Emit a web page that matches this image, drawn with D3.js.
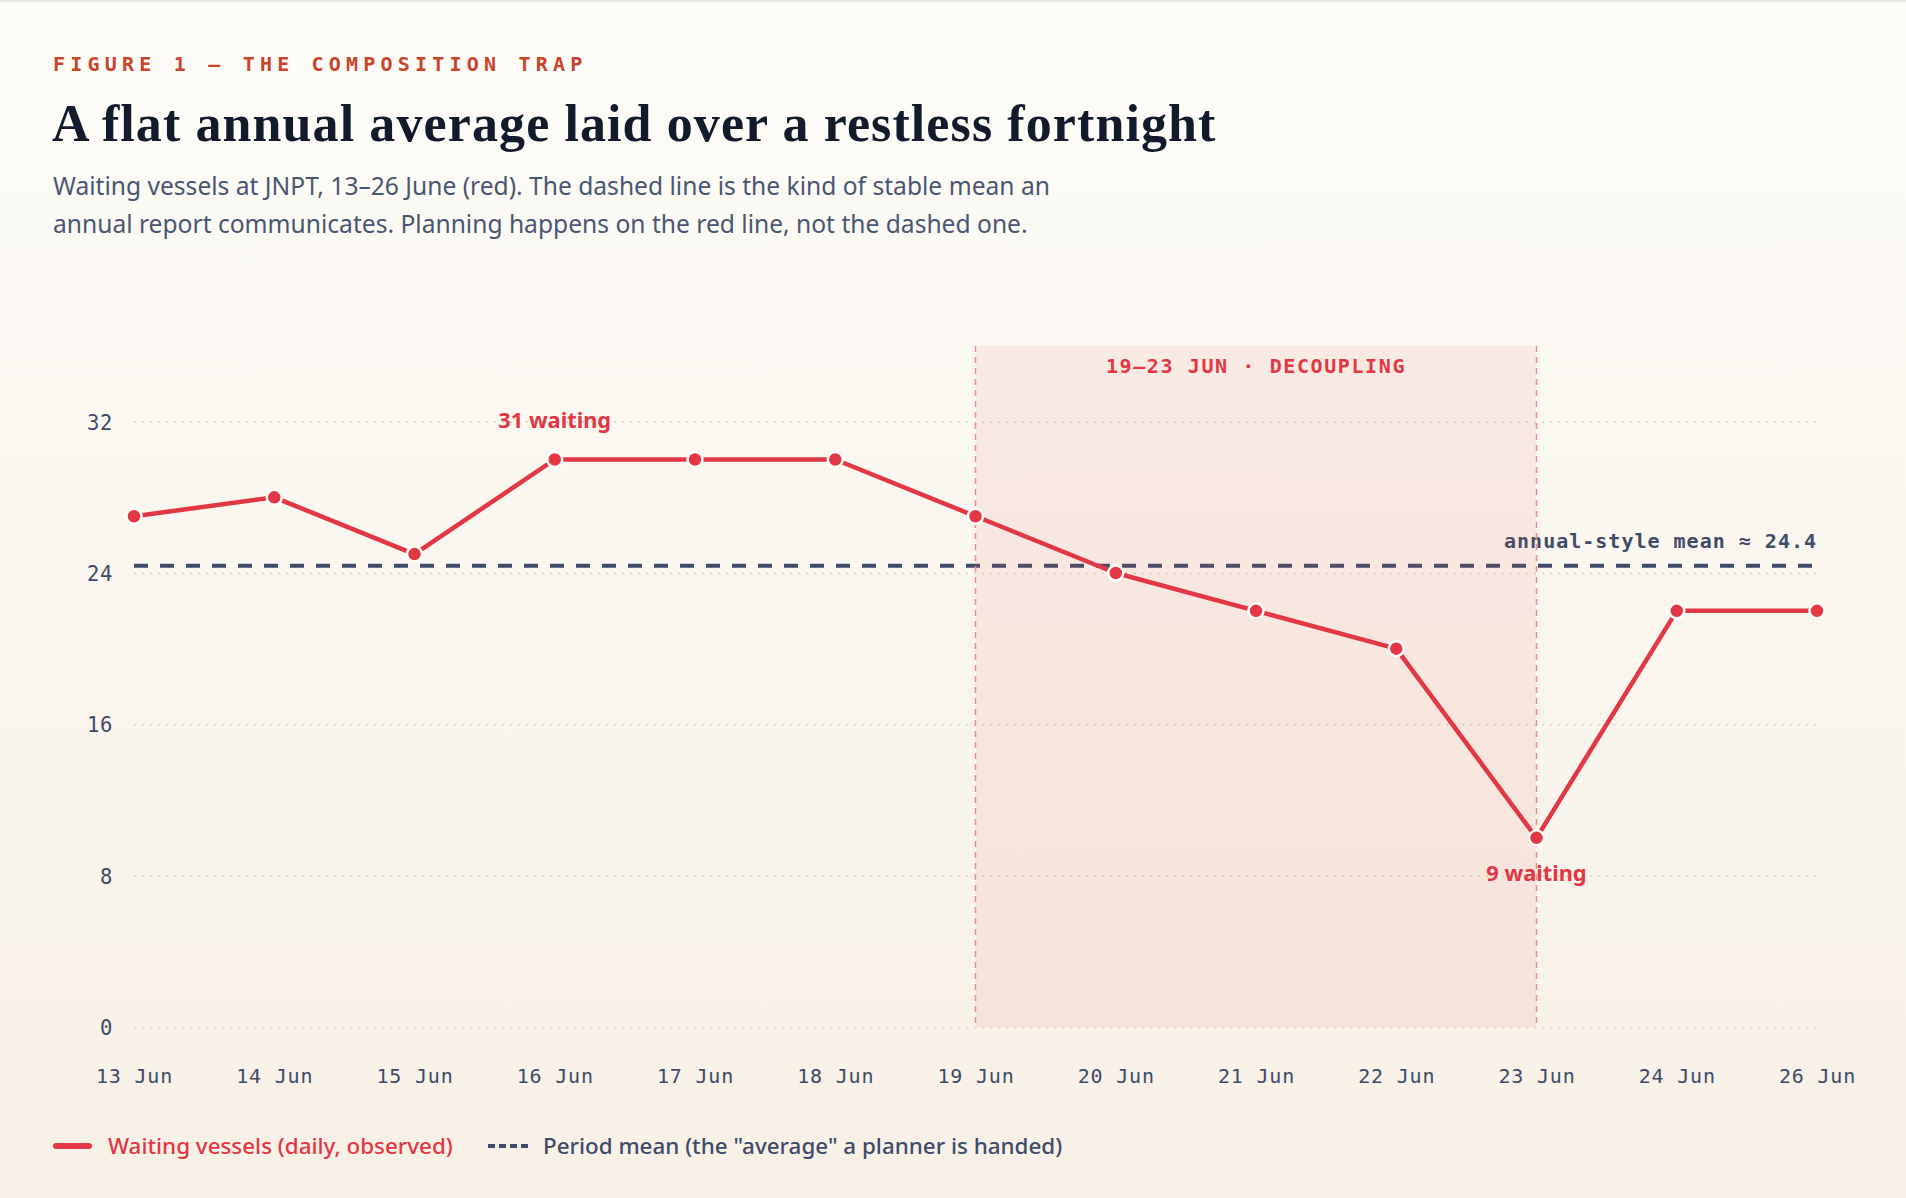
<!DOCTYPE html>
<html>
<head>
<meta charset="utf-8">
<script src="https://cdn.jsdelivr.net/npm/d3@7"></script>
<style>
  html, body { margin: 0; padding: 0; }
  body { width: 1906px; height: 1198px; overflow: hidden; }
  svg { display: block; }
</style>
</head>
<body>
<div id="chart"></div>
<script>
// data
const days = ["13 Jun", "14 Jun", "15 Jun", "16 Jun", "17 Jun", "18 Jun", "19 Jun",
              "20 Jun", "21 Jun", "22 Jun", "23 Jun", "24 Jun", "26 Jun"];
const waiting = [27, 28, 25, 30, 30, 30, 27, 24, 22, 20, 10, 22, 22];
const yTicks = [0, 8, 16, 24, 32];
const bandDays = ["19 Jun", "23 Jun"];
const bandLabel = "19\u201323 JUN \u00b7 DECOUPLING";
const callouts = [
    { day: "16 Jun", text: "31 waiting", side: "above" },
    { day: "23 Jun", text: "9 waiting", side: "below" }
];
const eyebrow = "FIGURE 1 \u2014 THE COMPOSITION TRAP";
const title = "A flat annual average laid over a restless fortnight";
const subtitle = [
    "Waiting vessels at JNPT, 13\u201326 June (red). The dashed line is the kind of stable mean an",
    "annual report communicates. Planning happens on the red line, not the dashed one."
];
const legendItems = ["Waiting vessels (daily, observed)", "Period mean (the \"average\" a planner is handed)"];

const W = 1906, H = 1198;
const red = '#e23744',
    slate = '#3f4b69',
    ink = '#121a2b',
    rust = '#c8452b';
const mono = '"DejaVu Sans Mono", "Liberation Mono", monospace',
    sans = '"Noto Sans", "Open Sans", sans-serif',
    serif = '"Liberation Serif", "DejaVu Serif", serif';

const meanValue = d3.mean(waiting);

const x = d3.scalePoint().domain(days).range([134, 1817]);
const y = d3.scaleLinear().domain([0, 36]).range([1027, 346]);

const svg = d3.select('#chart').append('svg')
    .attr('width', W)
    .attr('height', H);

const defs = svg.append('defs');
const bg = defs.append('linearGradient').attr('id', 'bg')
    .attr('x1', 0).attr('y1', 0).attr('x2', 0).attr('y2', 1);
bg.append('stop').attr('offset', 0).attr('stop-color', '#fdfcf8');
bg.append('stop').attr('offset', 1).attr('stop-color', '#f7f0e6');

svg.append('rect').attr('width', W).attr('height', H).attr('fill', 'url(#bg)');
svg.append('rect').attr('width', W).attr('height', 2).attr('fill', '#e7e6e3');

// header
svg.append('text')
    .attr('x', 53).attr('y', 71)
    .attr('font-family', mono).attr('font-weight', 700)
    .attr('font-size', 20).attr('letter-spacing', 5.2)
    .attr('fill', rust)
    .text(eyebrow);

svg.append('text')
    .attr('x', 52).attr('y', 141)
    .attr('font-family', serif).attr('font-weight', 700)
    .attr('font-size', 52).attr('letter-spacing', 1.1)
    .attr('fill', ink)
    .text(title);

svg.append('g').selectAll('text')
    .data(subtitle).enter()
    .append('text')
    .attr('x', 53)
    .attr('y', (d, i) => 195 + i * 38)
    .attr('font-family', sans).attr('font-size', 24.6)
    .attr('fill', '#4a5671')
    .text(d => d);

// y grid + labels
const yAxis = svg.append('g')
    .attr('transform', 'translate(' + x.range()[0] + ',0)')
    .call(d3.axisLeft(y).tickValues(yTicks)
        .tickSize(-(x.range()[1] - x.range()[0]))
        .tickPadding(21));
yAxis.select('.domain').remove();
yAxis.selectAll('line')
    .attr('stroke', '#d9d3c5')
    .attr('stroke-width', 1.5)
    .attr('stroke-dasharray', '2,6');
yAxis.selectAll('text')
    .attr('font-family', mono).attr('font-size', 20.5)
    .attr('letter-spacing', 0.6)
    .attr('fill', slate)
    .attr('dy', '0.36em');

// x labels
const xAxis = svg.append('g')
    .attr('transform', 'translate(0,' + y(0) + ')')
    .call(d3.axisBottom(x).tickSize(0));
xAxis.select('.domain').remove();
xAxis.selectAll('text')
    .attr('y', 56).attr('dy', 0)
    .attr('font-family', mono).attr('font-size', 20)
    .attr('letter-spacing', 0.8)
    .attr('fill', slate);

// mean line
svg.append('line')
    .attr('x1', x.range()[0]).attr('x2', x.range()[1])
    .attr('y1', y(meanValue)).attr('y2', y(meanValue))
    .attr('stroke', slate)
    .attr('stroke-width', 4)
    .attr('stroke-dasharray', '14,12');
svg.append('text')
    .attr('x', x.range()[1]).attr('y', y(meanValue) - 18)
    .attr('text-anchor', 'end')
    .attr('font-family', mono).attr('font-weight', 700)
    .attr('font-size', 20).attr('letter-spacing', 1)
    .attr('fill', slate)
    .text('annual-style mean \u2248 ' + d3.format('.1f')(meanValue));

// decoupling band
const bx0 = x(bandDays[0]), bx1 = x(bandDays[1]);
svg.append('rect')
    .attr('x', bx0).attr('y', y(36))
    .attr('width', bx1 - bx0).attr('height', y(0) - y(36))
    .attr('fill', '#ea5a4c').attr('fill-opacity', 0.09);
svg.append('g').selectAll('line')
    .data(bandDays).enter()
    .append('line')
    .attr('x1', d => x(d)).attr('x2', d => x(d))
    .attr('y1', y(36)).attr('y2', y(0))
    .attr('stroke', '#f08a8e')
    .attr('stroke-width', 1.5)
    .attr('stroke-dasharray', '6,5');
svg.append('text')
    .attr('x', (bx0 + bx1) / 2).attr('y', 373)
    .attr('text-anchor', 'middle')
    .attr('font-family', mono).attr('font-weight', 700)
    .attr('font-size', 20).attr('letter-spacing', 1.6)
    .attr('fill', red)
    .text(bandLabel);

// observed series
const line = d3.line()
    .x((d, i) => x(days[i]))
    .y(d => y(d));
svg.append('path')
    .datum(waiting)
    .attr('d', line)
    .attr('fill', 'none')
    .attr('stroke', red)
    .attr('stroke-width', 4.5)
    .attr('stroke-linejoin', 'round');
svg.append('g').selectAll('circle')
    .data(waiting).enter()
    .append('circle')
    .attr('cx', (d, i) => x(days[i]))
    .attr('cy', d => y(d))
    .attr('r', 7.5)
    .attr('fill', red)
    .attr('stroke', '#fffdf9')
    .attr('stroke-width', 2.5);

// callouts
svg.append('g').selectAll('text')
    .data(callouts).enter()
    .append('text')
    .attr('x', d => x(d.day))
    .attr('y', d => {
        const v = waiting[days.indexOf(d.day)];
        return d.side == 'above' ? y(v) - 32 : y(v) + 43;
    })
    .attr('text-anchor', 'middle')
    .attr('font-family', sans).attr('font-weight', 700)
    .attr('font-size', 21.8)
    .attr('fill', red)
    .text(d => d.text);

// legend
const lg = svg.append('g').attr('transform', 'translate(0,1146)');
lg.append('line')
    .attr('x1', 56).attr('x2', 89)
    .attr('stroke', red).attr('stroke-width', 6)
    .attr('stroke-linecap', 'round');
lg.append('text')
    .attr('x', 108).attr('y', 8)
    .attr('font-family', sans).attr('font-weight', 500)
    .attr('font-size', 22.4)
    .attr('fill', red)
    .text(legendItems[0]);
lg.append('line')
    .attr('x1', 488).attr('x2', 528)
    .attr('stroke', slate).attr('stroke-width', 4)
    .attr('stroke-dasharray', '7,4');
lg.append('text')
    .attr('x', 543).attr('y', 8)
    .attr('font-family', sans).attr('font-weight', 500)
    .attr('font-size', 22.4)
    .attr('fill', slate)
    .text(legendItems[1]);
</script>
</body>
</html>
